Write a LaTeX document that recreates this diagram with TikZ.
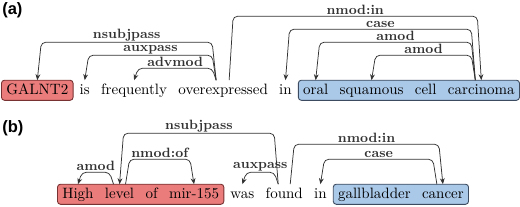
\documentclass[tikz,border=0pt]{standalone}
\usepackage{fontspec}
\newfontfamily\panelfont{Liberation Sans}
\usepackage{xcolor}
\usepackage{tikz}
\usetikzlibrary{arrows.meta,positioning,calc,fit,backgrounds}

\definecolor{boxred}{RGB}{234,124,124}
\definecolor{boxredline}{RGB}{120,50,50}
\definecolor{boxblue}{RGB}{170,200,232}
\definecolor{boxblueline}{RGB}{60,75,95}

\tikzset{
  word/.style={inner xsep=0pt,inner ysep=2pt,text height=7pt,text depth=2pt},
  dep/.style={-{Stealth[length=4pt,width=3.2pt]},black!80,line width=0.5pt,rounded corners=3pt},
  deplabel/.style={font=\small\bfseries,inner sep=0.5pt,anchor=south},
  redbox/.style={draw=boxredline,fill=boxred,rounded corners=2pt,inner xsep=3pt,inner ysep=0pt,line width=0.6pt},
  bluebox/.style={draw=boxblueline,fill=boxblue,rounded corners=2pt,inner xsep=3pt,inner ysep=0pt,line width=0.6pt},
  panel/.style={font=\panelfont\bfseries\fontsize{11}{13}\selectfont,inner sep=0pt}
}

\begin{document}
\begin{tikzpicture}[x=0.6667pt,y=0.6667pt,node distance=7.2pt]
  \useasboundingbox (0,0) rectangle (520,206);
  \node[panel,anchor=north west] (pa) at (2,204) {(a)};
  \node[panel,anchor=north west] (pb) at (2,86) {(b)};

  % sentence (a)
  \node[word,anchor=base west] (galnt) at (6,112) {GALNT2};
  \node[word,base right=of galnt] (is) {is};
  \node[word,base right=of is] (freq) {frequently};
  \node[word,base right=of freq] (over) {overexpressed};
  \node[word,base right=of over] (ina) {in};
  \node[word,base right=of ina] (oral) {oral};
  \node[word,base right=of oral] (squam) {squamous};
  \node[word,base right=of squam] (cell) {cell};
  \node[word,base right=of cell] (carc) {carcinoma};

  % sentence (b)
  \node[word,anchor=base west] (high) at (62,8) {High};
  \node[word,base right=of high] (level) {level};
  \node[word,base right=of level] (of) {of};
  \node[word,base right=of of] (mir) {mir-155};
  \node[word,base right=of mir] (was) {was};
  \node[word,base right=of was] (found) {found};
  \node[word,base right=of found] (inb) {in};
  \node[word,base right=of inb] (gall) {gallbladder};
  \node[word,base right=of gall] (cancer) {cancer};

  \begin{scope}[on background layer]
    \node[redbox,fit=(galnt)] (boxa1) {};
    \node[bluebox,fit=(oral)(carc)] (boxa2) {};
    \node[redbox,fit=(high)(mir)] (boxb1) {};
    \node[bluebox,fit=(gall)(cancer)] (boxb2) {};
  \end{scope}

  % arcs (a)
  \draw[dep] ($(over.north)+(-7,0)$) -- ++(-4,38) -- node[deplabel] {nsubjpass} ($(galnt.north)+(4,38)$) -- (galnt.north);
  \draw[dep] ($(over.north)+(-7,0)$) -- ++(-4,25) -- node[deplabel] {auxpass} ($(is.north)+(4,25)$) -- (is.north);
  \draw[dep] ($(over.north)+(-7,0)$) -- ++(-4,12) -- node[deplabel] {advmod} ($(freq.north)+(4,12)$) -- (freq.north);
  \draw[dep] ($(over.north)+(6,0)$) -- ++(4,64) -- node[deplabel] {nmod:in} ($(carc.north)+(-4,64)$) -- (carc.north);
  \draw[dep] ($(carc.north)+(-6,0)$) -- ++(-4,51) -- node[deplabel] {case} ($(ina.north)+(4,51)$) -- (ina.north);
  \draw[dep] ($(carc.north)+(-6,0)$) -- ++(-4,38) -- node[deplabel] {amod} ($(oral.north)+(4,38)$) -- (oral.north);
  \draw[dep] ($(carc.north)+(-6,0)$) -- ++(-4,25) -- node[deplabel] {amod} ($(squam.north)+(4,25)$) -- (squam.north);

  % arcs (b)
  \draw[dep] ($(level.north)+(-6,0)$) -- ++(-4,12) -- node[deplabel] {amod} ($(high.north)+(4,12)$) -- (high.north);
  \draw[dep] ($(level.north)+(6,0)$) -- ++(4,25) -- node[deplabel] {nmod:of} ($(mir.north)+(-4,25)$) -- (mir.north);
  \draw[dep] ($(found.north)+(-6,0)$) -- ++(-4,51) -- node[deplabel] {nsubjpass} ($(level.north)+(4,51)$) -- (level.north);
  \draw[dep] ($(found.north)+(-6,0)$) -- ++(-4,12) -- node[deplabel] {auxpass} ($(was.north)+(4,12)$) -- (was.north);
  \draw[dep] ($(found.north)+(6,0)$) -- ++(4,40) -- node[deplabel] {nmod:in} ($(cancer.north)+(-4,40)$) -- (cancer.north);
  \draw[dep] ($(cancer.north)+(-6,0)$) -- ++(-4,25) -- node[deplabel] {case} ($(inb.north)+(4,25)$) -- (inb.north);
\end{tikzpicture}
\end{document}
